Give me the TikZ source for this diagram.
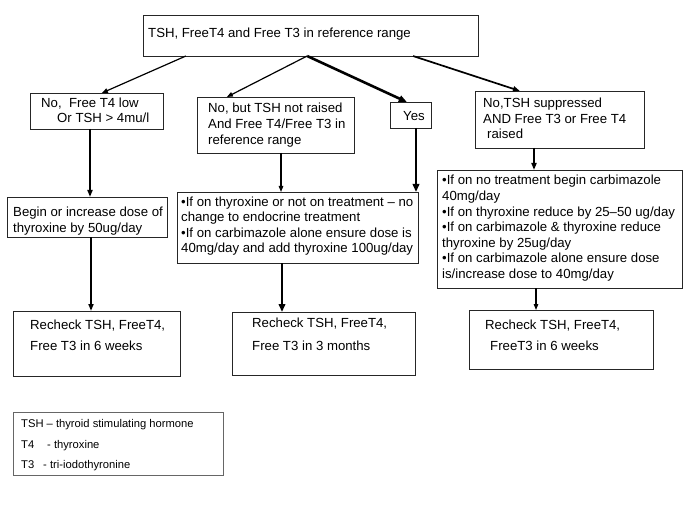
\documentclass[tikz,border=0pt]{standalone}
\usepackage{fontspec}
\setmainfont{Liberation Sans}
\usetikzlibrary{arrows.meta,calc}
\tikzset{
  box/.style={draw=black!85, line width=0.9pt, anchor=north west, inner sep=0pt, outer sep=0pt},
  txt/.style={anchor=base west, inner sep=0pt, font=\fontsize{13.2}{15.5}\selectfont},
  lg/.style={anchor=base west, inner sep=0pt, font=\fontsize{11.2}{13}\selectfont},
  arr/.style={-{Triangle[length=6pt,width=4.5pt]}, line width=1.2pt},
  arrm/.style={-{Triangle[length=7pt,width=5pt]}, line width=1.7pt},
  arrt/.style={-{Triangle[length=8pt,width=6.5pt]}, line width=2.6pt},
}
\newcommand\tline[4]{\node[txt] (#1) at (#2,#3) {#4};}
\begin{document}
\begin{tikzpicture}[x=1pt,y=-1pt]
\useasboundingbox[fill=white] (0,0) rectangle (685,513);
% boxes
\node[box, minimum width=335pt, minimum height=41pt] (top) at (143,15) {};
\node[box, minimum width=133pt, minimum height=36pt] (nolow) at (30,93) {};
\node[box, minimum width=157pt, minimum height=56pt] (nobut) at (197,97) {};
\node[box, minimum width=41pt, minimum height=26pt] (yes) at (390,102) {};
\node[box, minimum width=169pt, minimum height=57pt] (supp) at (475,91) {};
\node[box, minimum width=160pt, minimum height=40pt] (begin) at (7,197) {};
\node[box, minimum width=241pt, minimum height=71pt] (mid) at (177,192) {};
\node[box, minimum width=245pt, minimum height=118pt] (right) at (437,170) {};
\node[box, minimum width=167pt, minimum height=65pt] (recL) at (13,311) {};
\node[box, minimum width=183pt, minimum height=63pt] (recM) at (232,312) {};
\node[box, minimum width=184pt, minimum height=59pt] (recR) at (469,310) {};
\node[box, draw=black!60, line width=0.8pt, minimum width=210pt, minimum height=63pt] (legend) at (13,412) {};
% texts
\tline{t0}{148}{38}{TSH, FreeT4 and Free T3 in reference range}
\tline{t1}{41}{108}{No,\ \ Free T4 low}
\tline{t2}{57}{123}{Or TSH > 4mu/l}
\tline{t3}{208}{113}{No, but TSH not raised}
\tline{t4}{208}{129}{And Free T4/Free T3 in}
\tline{t5}{208}{145}{reference range}
\tline{t6}{403}{121}{Yes}
\tline{t7}{483}{108}{No,TSH suppressed}
\tline{t8}{483}{124}{AND Free T3 or Free T4}
\tline{t9}{487}{139}{raised}
\tline{t10}{13}{217}{Begin or increase dose of}
\tline{t11}{13}{232}{thyroxine by 50ug/day}
\tline{t12}{181}{207}{•If on thyroxine or not on treatment – no}
\tline{t13}{181}{222}{change to endocrine treatment}
\tline{t14}{181}{237}{•If on carbimazole alone ensure dose is}
\tline{t15}{181}{252}{40mg/day and add thyroxine 100ug/day}
\tline{t16}{442}{185}{•If on no treatment begin carbimazole}
\tline{t17}{442}{200.5}{40mg/day}
\tline{t18}{442}{216}{•If on thyroxine reduce by 25–50 ug/day}
\tline{t19}{442}{231.5}{•If on carbimazole \& thyroxine reduce}
\tline{t20}{442}{247}{thyroxine by 25ug/day}
\tline{t21}{442}{262.5}{•If on carbimazole alone ensure dose}
\tline{t22}{442}{278}{is/increase dose to 40mg/day}
\tline{t23}{30}{329}{Recheck TSH, FreeT4,}
\tline{t24}{30}{350}{Free T3 in 6 weeks}
\tline{t25}{252}{327}{Recheck TSH, FreeT4,}
\tline{t26}{252}{350}{Free T3 in 3 months}
\tline{t27}{485}{329}{Recheck TSH, FreeT4,}
\tline{t28}{490}{350}{FreeT3 in 6 weeks}
\node[lg] (l1) at (21,427) {TSH – thyroid stimulating hormone};
\node[lg] (l2) at (21,448) {T4};
\node[lg] (l3) at (47,448) {- thyroxine};
\node[lg] (l4) at (21,468) {T3};
\node[lg] (l5) at (43,468) {- tri-iodothyronine};
% x positions for vertical connectors
\coordinate (x1) at (90,0);
\coordinate (x2) at (91,0);
\coordinate (x3) at (281,0);
\coordinate (x4) at (416,0);
\coordinate (x5) at (282,0);
\coordinate (x6) at (534,0);
\coordinate (x7) at (536,0);
% connectors
\draw[arr] ($(top.south west)!0.128!(top.south east)$) -- ($(nolow.north west)!0.54!(nolow.north east)$);
\draw[arr] ($(top.south west)!0.49!(top.south east)$) -- ($(nobut.north west)!0.19!(nobut.north east)$);
\draw[arrt] ($(top.south west)!0.49!(top.south east)$) -- ($(yes.north west)!0.41!(yes.north east)$);
\draw[arrm] ($(top.south west)!0.806!(top.south east)$) -- ($(supp.north west)!0.266!(supp.north east)$);
\draw[arrm] (nolow.south -| x1) -- (begin.north -| x1);
\draw[arrm] (begin.south -| x2) -- (recL.north -| x2);
\draw[arr] (nobut.south -| x3) -- (mid.north -| x3);
\draw[arrt] (yes.south -| x4) -- (mid.north -| x4);
\draw[arrt] (mid.south -| x5) -- (recM.north -| x5);
\draw[arrm] (supp.south -| x6) -- (right.north -| x6);
\draw[arr] (right.south -| x7) -- (recR.north -| x7);
\end{tikzpicture}
\end{document}
